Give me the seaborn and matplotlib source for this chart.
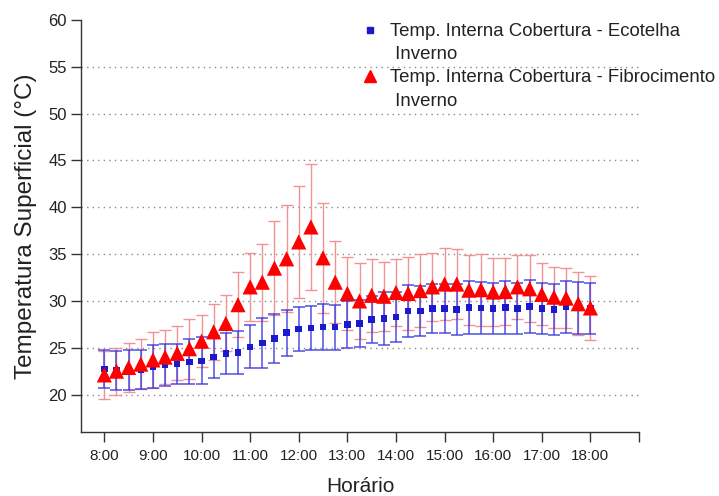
import matplotlib
matplotlib.use("Agg")
import matplotlib.pyplot as plt
from matplotlib.lines import Line2D
import seaborn as sns
import pandas as pd

hours = [8.0, 8.25, 8.5, 8.75, 9.0, 9.25, 9.5, 9.75, 10.0, 10.25, 10.5, 10.75,
         11.0, 11.25, 11.5, 11.75, 12.0, 12.25, 12.5, 12.75, 13.0, 13.25, 13.5, 13.75,
         14.0, 14.25, 14.5, 14.75, 15.0, 15.25, 15.5, 15.75, 16.0, 16.25, 16.5, 16.75,
         17.0, 17.25, 17.5, 17.75, 18.0]

ecotelha = [22.75, 22.6, 22.65, 22.7, 23.0, 23.2, 23.25, 23.5, 23.6, 24.0, 24.4, 24.5,
            25.1, 25.5, 26.0, 26.6, 27.0, 27.1, 27.2, 27.2, 27.5, 27.6, 28.0, 28.1,
            28.3, 28.9, 28.9, 29.2, 29.2, 29.1, 29.3, 29.25, 29.2, 29.3, 29.2, 29.4,
            29.2, 29.1, 29.35, 29.25, 29.2]
ecotelha_err = [2.0, 2.1, 2.15, 2.1, 2.25, 2.25, 2.15, 2.4, 2.5, 2.25, 2.2, 2.3,
                2.3, 2.65, 2.6, 2.45, 2.3, 2.35, 2.45, 2.4, 2.5, 2.5, 2.5, 2.8,
                2.7, 2.8, 2.7, 2.65, 2.65, 2.7, 2.8, 2.8, 2.7, 2.8, 2.75, 2.8,
                2.75, 2.7, 2.75, 2.8, 2.75]

fibro = [22.1, 22.5, 22.9, 23.25, 23.7, 24.0, 24.4, 24.9, 25.7, 26.7, 27.6, 29.6,
         31.5, 32.0, 33.5, 34.5, 36.3, 37.9, 34.6, 32.0, 30.8, 30.0, 30.6, 30.5,
         30.9, 30.8, 31.1, 31.5, 31.8, 31.8, 31.15, 31.2, 30.95, 31.0, 31.5, 31.3,
         30.7, 30.4, 30.3, 29.7, 29.25]
fibro_err = [2.55, 2.5, 2.6, 2.65, 3.0, 2.9, 2.9, 3.2, 2.8, 3.0, 3.0, 3.5,
             3.6, 4.1, 5.0, 5.7, 6.0, 6.7, 5.9, 4.4, 3.9, 4.1, 3.9, 3.7,
             3.6, 3.9, 3.9, 3.6, 3.8, 3.7, 3.75, 3.85, 3.6, 3.6, 3.4, 3.6,
             3.3, 3.25, 3.2, 3.35, 3.4]

tick_hours = [8, 9, 10, 11, 12, 13, 14, 15, 16, 17, 18, 19]
tick_labels = ["8:00", "9:00", "10:00", "11:00", "12:00", "13:00", "14:00",
               "15:00", "16:00", "17:00", "18:00", ""]
y_ticks = [20, 25, 30, 35, 40, 45, 50, 55, 60]

legend_lines = ["Temp. Interna Cobertura - Ecotelha", " Inverno",
                "Temp. Interna Cobertura - Fibrocimento", " Inverno"]

df = pd.DataFrame({"hora": hours, "eco": ecotelha, "eco_err": ecotelha_err,
                   "fib": fibro, "fib_err": fibro_err})

sns.set_style("white")
plt.rcParams["font.family"] = ["Liberation Sans", "DejaVu Sans"]

fig = plt.figure(figsize=(7.19, 4.96), dpi=100)
ax = fig.add_axes([81 / 719, 64 / 496, (639 - 81) / 719, (432 - 20) / 496])

for y in y_ticks[:-1]:
    ax.axhline(y, color="#8a8a8a", lw=1.0, ls=(0, (1, 3)), zorder=0)

ax.errorbar(df["hora"], df["fib"], yerr=df["fib_err"], fmt="none",
            ecolor="#f29292", elinewidth=1.0, capsize=4, capthick=1.0, zorder=2)
ax.errorbar(df["hora"], df["eco"], yerr=df["eco_err"], fmt="none",
            ecolor="#3a3ae0", alpha=0.7, elinewidth=1.4, capsize=4.5, capthick=1.4, zorder=3)
sns.scatterplot(data=df, x="hora", y="eco", marker="s", s=22, color="#1a1acc",
                edgecolor="none", ax=ax, zorder=4)
sns.scatterplot(data=df, x="hora", y="fib", marker="^", s=120, color="#ff0000",
                edgecolor="none", ax=ax, zorder=5)

ax.set_xlim(7.52, 19.0)
ax.set_ylim(16, 60)
ax.set_xticks(tick_hours)
ax.set_xticklabels(tick_labels, fontsize=11)
ax.set_yticks(y_ticks)
ax.set_yticklabels([str(v) for v in y_ticks], fontsize=12)
ax.tick_params(axis="both", direction="out", length=7, width=1, color="#333333",
               left=True, bottom=True, colors="#222222")
ax.tick_params(axis="x", pad=5)
ax.tick_params(axis="y", pad=3)

for side in ["top", "right"]:
    ax.spines[side].set_visible(False)
for side in ["left", "bottom"]:
    ax.spines[side].set_color("#333333")
    ax.spines[side].set_linewidth(1.0)

ax.set_xlabel("Horário", fontsize=15, color="#222222", labelpad=10)
ax.set_ylabel("Temperatura Superficial (°C)", fontsize=17.5, color="#222222", labelpad=8)

handles = [Line2D([], [], ls="none", marker="s", markersize=4, color="#1a1acc"),
           Line2D([], [], ls="none", marker="none"),
           Line2D([], [], ls="none", marker="^", markersize=9, color="#ff0000"),
           Line2D([], [], ls="none", marker="none")]
leg = fig.legend(handles, legend_lines, loc="upper left",
                 bbox_to_anchor=(347 / 719, 1 - 10 / 496), frameon=False,
                 fontsize=13.4, handletextpad=0.5, labelspacing=0.33, handlelength=1.1,
                 borderpad=0.2)
for t in leg.get_texts():
    t.set_color("#222222")

fig.savefig("out.png", dpi=100)
